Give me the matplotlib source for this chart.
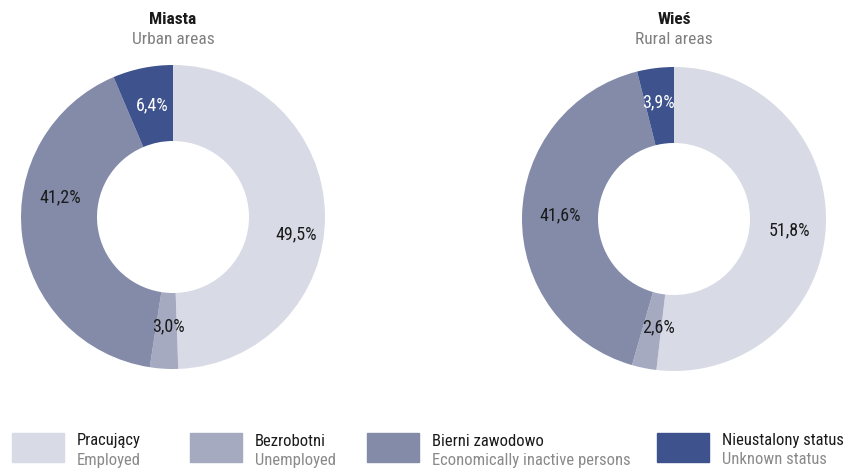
import matplotlib
matplotlib.use("Agg")
import matplotlib.pyplot as plt
from matplotlib.patches import Rectangle
from matplotlib import font_manager
import numpy as np

names = {f.name for f in font_manager.fontManager.ttflist}
cands = [n for n in ['Liberation Sans Narrow', 'Roboto Condensed', 'Open Sans Condensed',
                     'DejaVu Sans'] if n in names]
plt.rcParams['font.family'] = cands + ['DejaVu Sans']
plt.rcParams['font.stretch'] = 'condensed'

categories_pl = ["Pracujący", "Bezrobotni", "Bierni zawodowo", "Nieustalony status"]
categories_en = ["Employed", "Unemployed", "Economically inactive persons", "Unknown status"]
colors = ["#d8dbe5", "#a5aac0", "#838ba9", "#3e528d"]
urban = [49.5, 3.0, 41.2, 6.4]
rural = [51.8, 2.6, 41.6, 3.9]
titles_pl = ["Miasta", "Wieś"]
titles_en = ["Urban areas", "Rural areas"]

# label nudges in pixels (dx right, dy down) for readability
nudges = [[(3, 19), (3, -11), (6, -34), (3, 6)],
          [(-4, 4), (8, -9), (6, -2), (-1, 3)]]

W, H = 844, 468
fig = plt.figure(figsize=(W / 100, H / 100), dpi=100)

R = 152
centers = [(173, 217), (674, 219)]
datasets = [urban, rural]

for k, ((cx, cy), vals, tpl, ten) in enumerate(zip(centers, datasets, titles_pl, titles_en)):
    ax = fig.add_axes([(cx - R) / W, (H - cy - R) / H, 2 * R / W, 2 * R / H])
    ax.pie(vals, colors=colors, startangle=90, counterclock=False,
           wedgeprops=dict(width=0.5, edgecolor='none'), radius=1.0)
    ax.set_xlim(-1, 1)
    ax.set_ylim(-1, 1)
    ax.set_aspect('equal')
    ax.axis('off')
    total = sum(vals)
    cum = 0
    for i, v in enumerate(vals):
        mid = 90 - 360 * (cum + v / 2) / total
        cum += v
        r = 0.79
        dx, dy = nudges[k][i]
        x = r * np.cos(np.radians(mid)) + dx / R
        y = r * np.sin(np.radians(mid)) - dy / R
        col = 'white' if i == 3 else '#1a1a1a'
        ax.text(x, y, f"{v:.1f}%".replace('.', ','), ha='center', va='center',
                fontsize=13, color=col)
    fig.text(cx / W, 1 - 20 / H, tpl, ha='center', va='center', fontsize=12.5,
             fontweight='bold', color='#1a1a1a')
    fig.text(cx / W, 1 - 40 / H, ten, ha='center', va='center', fontsize=12.5,
             color='#7f7f7f')

patch_x = [12, 190, 367, 657]
for px, pl, en, c in zip(patch_x, categories_pl, categories_en, colors):
    fig.patches.append(Rectangle((px / W, 1 - 462 / H), 52 / W, 29 / H,
                                 transform=fig.transFigure, color=c, zorder=1))
    fig.text((px + 65) / W, 1 - 441 / H, pl, ha='left', va='center',
             fontsize=12, color='#1a1a1a')
    fig.text((px + 65) / W, 1 - 460 / H, en, ha='left', va='center',
             fontsize=12, color='#8a8a8a')

fig.savefig("out.png", dpi=100)
